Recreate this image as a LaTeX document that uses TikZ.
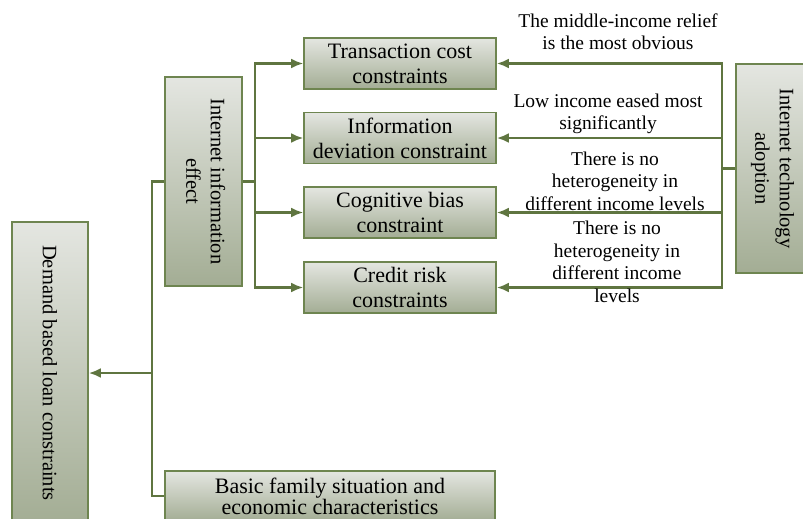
\documentclass[tikz,border=0pt]{standalone}
\usepackage{fontspec}
\setmainfont{Liberation Serif}
\usetikzlibrary{positioning,arrows.meta}
\definecolor{linegreen}{HTML}{5F7540}
\definecolor{boxline}{HTML}{6E8550}
\definecolor{boxtop}{HTML}{E4E6E1}
\definecolor{boxbot}{HTML}{A3AD94}
\begin{document}
\begin{tikzpicture}[x=1pt, y=-1pt, every node/.style={font=\fontsize{19.5}{22.5}\selectfont, align=center, inner sep=0pt},
  box/.style={draw=boxline, line width=1.6pt, top color=boxtop, bottom color=boxbot, font=\fontsize{22}{25}\selectfont},
  tallbox/.style={box, font=\fontsize{20.5}{24.5}\selectfont},
  link/.style={draw=linegreen, line width=2.8pt},
  arr/.style={link, -{Latex[length=12pt,width=10pt]}}]
\useasboundingbox (0,0) rectangle (803,519);
\clip (0,0) rectangle (803,519);
% boxes
\node[tallbox, minimum width=76pt, minimum height=302pt] (demand) at (50,373) {\rotatebox{-90}{Demand based loan constraints}};
\node[tallbox, minimum width=77pt, minimum height=209pt] (iie) at (203.5,181.5) {\rotatebox{-90}{\begin{tabular}{@{}c@{}}Internet information\\effect\end{tabular}}};
\node[tallbox, minimum width=73pt, minimum height=209pt] (ita) at (772.5,168.5) {\rotatebox{-90}{\begin{tabular}{@{}c@{}}Internet technology\\adoption\end{tabular}}};
\node[box, minimum width=330pt, minimum height=50pt, font=\fontsize{22}{21}\selectfont] (basic) at (330,496) {Basic family situation and\\economic characteristics};
\foreach \n/\y/\txt in {tcc/63.5/{Transaction cost\\constraints}, idc/138/{Information\\deviation constraint}, cbc/212.5/{Cognitive bias\\constraint}, crc/287.5/{Credit risk\\constraints}} {
  \node[box, minimum width=192pt, minimum height=51pt] (\n) at (400,\y) {\txt};
}
% connectors
\coordinate (jl) at (152,373);
\coordinate (jm) at (255,181.5);
\coordinate (jr) at (722,168.5);
\draw[link] (iie.west) -| (jl) |- (basic.west);
\draw[arr] (jl) -- (demand.east);
\draw[link] (iie.east) -- (jm);
\draw[link] (ita.west) -- (jr);
\foreach \n in {tcc,idc,cbc,crc} {
  \draw[arr] (jm) |- (\n.west);
  \draw[arr] (jr) |- (\n.east);
}
% labels
\node (lab1) at (618,31.5) {The middle-income relief\\is the most obvious};
\node (lab2) at (608,114) {Low income eased most\\significantly};
\node (lab3) at (615,181) {There is no\\heterogeneity in\\different income levels};
\node (lab4) at (617,262) {There is no\\heterogeneity in\\different income\\levels};
\end{tikzpicture}
\end{document}
